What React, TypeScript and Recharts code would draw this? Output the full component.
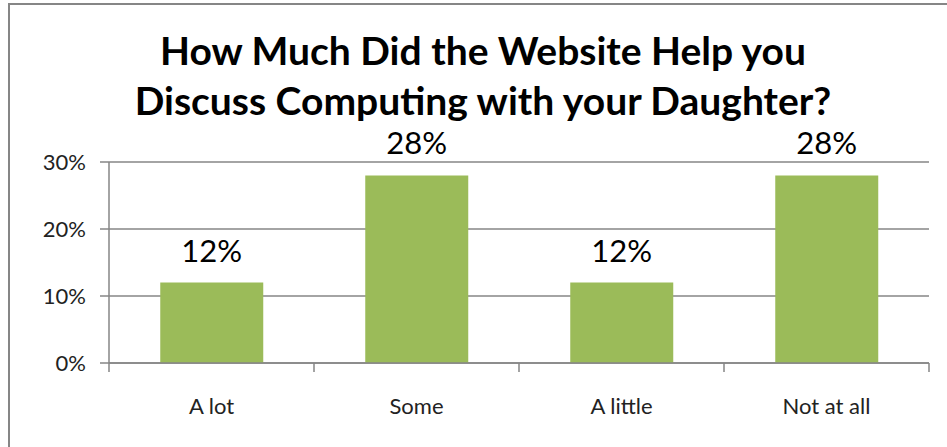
import React from 'react';
import { BarChart, Bar, XAxis, YAxis, CartesianGrid, LabelList } from 'recharts';

const categories = ['A lot', 'Some', 'A little', 'Not at all'];
const shares = [0.12, 0.28, 0.12, 0.28];
const yTicks = [0, 0.1, 0.2, 0.3];
const titleLines = ['How Much Did the Website Help you', 'Discuss Computing with your Daughter?'];

const W = 947;
const H = 447;
const margin = { top: 162, right: 18, bottom: 24, left: 39 };
const yAxisWidth = 70;
const gray = '#868686';
const font = 'Lato, "Open Sans", sans-serif';

const data = categories.map((c, i) => ({ name: c, value: shares[i] }));
const pct = (v: any) => `${Math.round(Number(v) * 100)}%`;

// category label at centre, tick marks on the category boundaries
const CategoryTick = (props: any) => {
  const { x, y, payload, index } = props;
  const band = (W - margin.left - yAxisWidth - margin.right) / categories.length;
  const last = index === categories.length - 1;
  return (
    <g>
      <line x1={x - band / 2} x2={x - band / 2} y1={y - 8} y2={y + 1} stroke={gray} strokeWidth={1.5} />
      {last && <line x1={x + band / 2} x2={x + band / 2} y1={y - 8} y2={y + 1} stroke={gray} strokeWidth={1.5} />}
      <text x={x} y={y + 43} textAnchor="middle" fontSize={22} fill="#222" fontFamily={font}>
        {payload.value}
      </text>
    </g>
  );
};

const App: React.FC = () => {
  return (
    <div style={{ position: 'absolute', left: 0, top: 0, width: W, height: H, overflow: 'hidden', background: '#fff', fontFamily: font }}>
      <div style={{ position: 'absolute', left: 8, top: 3, width: 960, height: 470, border: `2px solid ${gray}` }} />
      <div style={{ position: 'absolute', left: 8, top: 25, width: 950, textAlign: 'center', fontWeight: 'bold', fontSize: 39, lineHeight: '50px', color: '#000' }}>
        {titleLines.map((t) => (
          <div key={t}>{t}</div>
        ))}
      </div>
      <div style={{ position: 'absolute', left: 0, top: 0 }}>
        <BarChart width={W} height={H} data={data} margin={margin} barCategoryGap="25%">
          <CartesianGrid vertical={false} stroke={gray} strokeWidth={1.5} />
          <XAxis dataKey="name" axisLine={{ stroke: gray, strokeWidth: 1.5 }} tickLine={false} tick={<CategoryTick />} height={60} interval={0} />
          <YAxis
            width={yAxisWidth}
            domain={[0, 0.3]}
            ticks={yTicks}
            tickFormatter={pct}
            axisLine={{ stroke: gray, strokeWidth: 1.5 }}
            tickLine={{ stroke: gray, strokeWidth: 1.5 }}
            tickSize={9}
            tickMargin={14}
            tick={{ fontSize: 22, fill: '#222', fontFamily: font }}
          />
          <Bar dataKey="value" fill="#9BBB59" isAnimationActive={false}>
            <LabelList dataKey="value" position="top" offset={21} formatter={pct} fontSize={31} fill="#000" fontFamily={font} />
          </Bar>
        </BarChart>
      </div>
    </div>
  );
};

export default App;
